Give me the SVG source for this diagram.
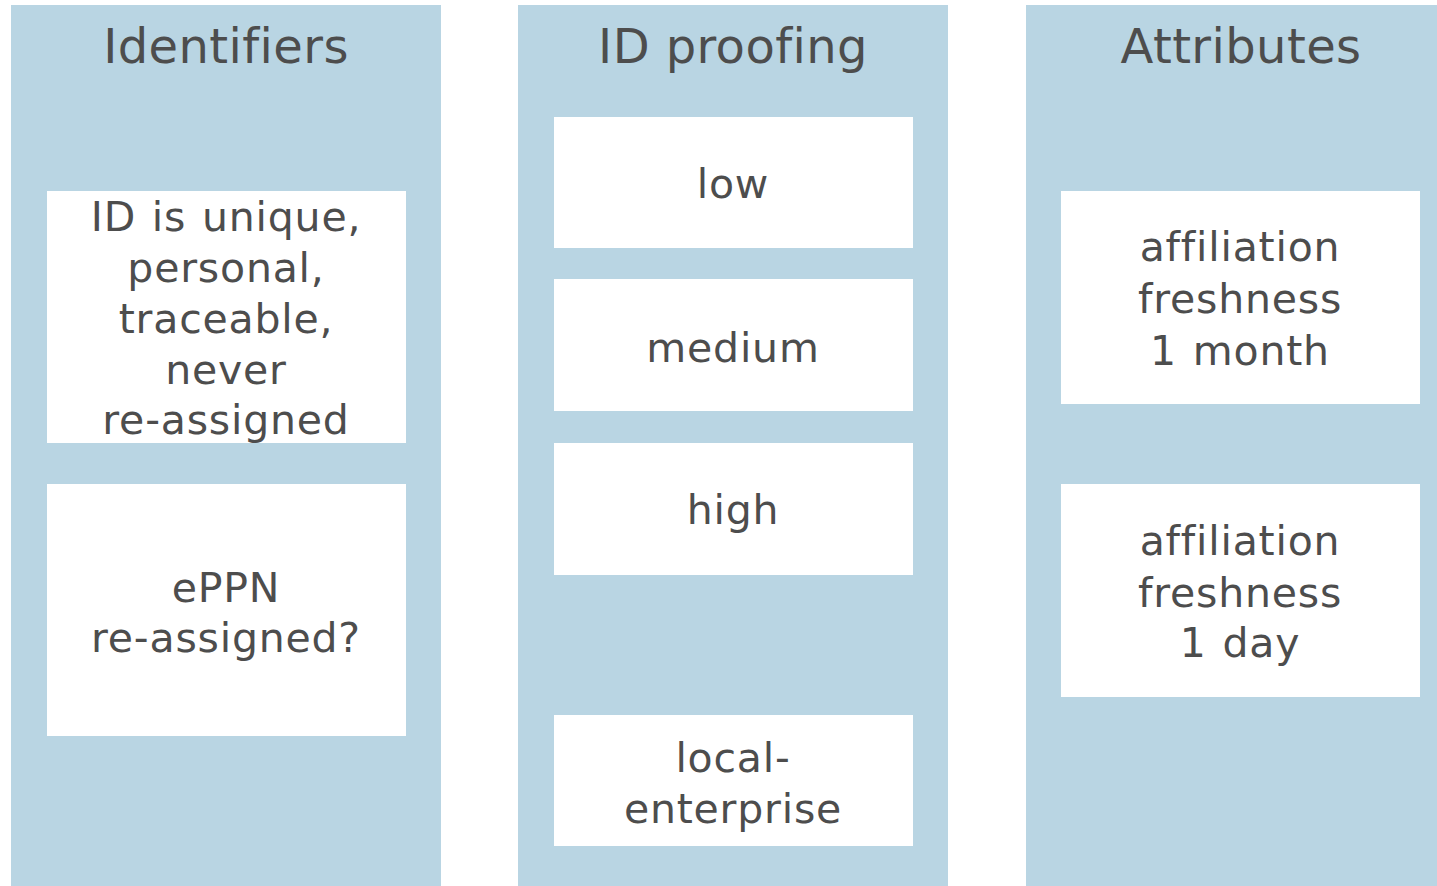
<svg xmlns="http://www.w3.org/2000/svg" width="1437" height="886" viewBox="0 0 1437 886">
  <style>
    .col { fill: #b9d5e3; }
    .box { fill: #ffffff; }
    text { font-family: "DejaVu Sans", Verdana, sans-serif; fill: #4d4d4d; text-anchor: middle; font-variant-ligatures: none; }
    .title { font-size: 48px; letter-spacing: 0.4px; }
    .label { font-size: 41px; letter-spacing: 0.8px; word-spacing: 2px; }
  </style>
  <rect width="1437" height="886" fill="#ffffff"/>

  <!-- Column: Identifiers -->
  <g id="col-identifiers">
    <rect class="col" x="11" y="5" width="430" height="881"/>
    <text class="title" x="226" y="63">Identifiers</text>
  </g>
  <g id="id-unique">
    <rect class="box" x="47" y="191" width="359" height="252"/>
    <text class="label" x="226" y="231">ID is unique,</text>
    <text class="label" x="226" y="282">personal,</text>
    <text class="label" x="226" y="333">traceable,</text>
    <text class="label" x="226" y="384">never</text>
    <text class="label" x="226" y="434">re-assigned</text>
  </g>
  <g id="eppn">
    <rect class="box" x="47" y="484" width="359" height="252"/>
    <text class="label" x="226" y="602">ePPN</text>
    <text class="label" x="226" y="652">re-assigned?</text>
  </g>

  <!-- Column: ID proofing -->
  <g id="col-proofing">
    <rect class="col" x="518" y="5" width="430" height="881"/>
    <text class="title" x="733" y="63">ID proofing</text>
  </g>
  <g id="low">
    <rect class="box" x="554" y="117" width="359" height="131"/>
    <text class="label" x="733" y="198">low</text>
  </g>
  <g id="medium">
    <rect class="box" x="554" y="279" width="359" height="132"/>
    <text class="label" x="733" y="362">medium</text>
  </g>
  <g id="high">
    <rect class="box" x="554" y="443" width="359" height="132"/>
    <text class="label" x="733" y="524">high</text>
  </g>
  <g id="local-enterprise">
    <rect class="box" x="554" y="715" width="359" height="131"/>
    <text class="label" x="733" y="772">local-</text>
    <text class="label" x="733" y="823">enterprise</text>
  </g>

  <!-- Column: Attributes -->
  <g id="col-attributes">
    <rect class="col" x="1026" y="5" width="411" height="881"/>
    <text class="title" x="1241" y="63">Attributes</text>
  </g>
  <g id="freshness-month">
    <rect class="box" x="1061" y="191" width="359" height="213"/>
    <text class="label" x="1240" y="261">affiliation</text>
    <text class="label" x="1240" y="313">freshness</text>
    <text class="label" x="1240" y="365">1 month</text>
  </g>
  <g id="freshness-day">
    <rect class="box" x="1061" y="484" width="359" height="213"/>
    <text class="label" x="1240" y="555">affiliation</text>
    <text class="label" x="1240" y="607">freshness</text>
    <text class="label" x="1240" y="657">1 day</text>
  </g>

  <!-- no connectors in this diagram -->
  <g id="connectors"/>
</svg>
